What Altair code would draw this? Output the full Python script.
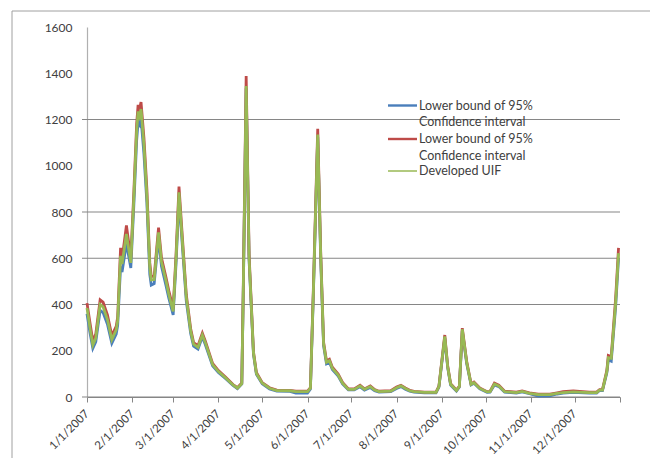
import altair as alt
import pandas as pd

# ---- data ----
dates = [
    "2007-01-01", "2007-01-03", "2007-01-05", "2007-01-07", "2007-01-10", "2007-01-12",
    "2007-01-15", "2007-01-18", "2007-01-21", "2007-01-22", "2007-01-24", "2007-01-25",
    "2007-01-28", "2007-01-31", "2007-02-02", "2007-02-04", "2007-02-05", "2007-02-06",
    "2007-02-07", "2007-02-09", "2007-02-11", "2007-02-13", "2007-02-14", "2007-02-16",
    "2007-02-19", "2007-02-21", "2007-02-24", "2007-02-26", "2007-03-01", "2007-03-03",
    "2007-03-05", "2007-03-07", "2007-03-10", "2007-03-13", "2007-03-15", "2007-03-18",
    "2007-03-21", "2007-03-23", "2007-03-28", "2007-04-01", "2007-04-06", "2007-04-11",
    "2007-04-14", "2007-04-17", "2007-04-18", "2007-04-20", "2007-04-22", "2007-04-25",
    "2007-04-27", "2007-05-01", "2007-05-06", "2007-05-11", "2007-05-20", "2007-05-24",
    "2007-06-01", "2007-06-03", "2007-06-05", "2007-06-08", "2007-06-10", "2007-06-12",
    "2007-06-14", "2007-06-16", "2007-06-18", "2007-06-22", "2007-06-25", "2007-06-29",
    "2007-07-03", "2007-07-07", "2007-07-10", "2007-07-14", "2007-07-17", "2007-07-20",
    "2007-07-28", "2007-08-01", "2007-08-04", "2007-08-07", "2007-08-10", "2007-08-13",
    "2007-08-20", "2007-08-28", "2007-08-30", "2007-09-03", "2007-09-05", "2007-09-07",
    "2007-09-11", "2007-09-13", "2007-09-15", "2007-09-18", "2007-09-21", "2007-09-23",
    "2007-09-27", "2007-10-02", "2007-10-04", "2007-10-07", "2007-10-10", "2007-10-14",
    "2007-10-22", "2007-10-26", "2007-10-31", "2007-11-06", "2007-11-14", "2007-11-19",
    "2007-11-23", "2007-11-30", "2007-12-11", "2007-12-16", "2007-12-18", "2007-12-20",
    "2007-12-23", "2007-12-24", "2007-12-26", "2007-12-29", "2007-12-31",
]

developed_uif = [
    385, 300, 225, 255, 400, 390, 335, 248, 290, 330, 610, 575,
    705, 580, 850, 1150, 1235, 1215, 1245, 1090, 870, 560, 506, 508,
    712, 585, 505, 445, 370, 600, 885, 700, 430, 285, 228, 215,
    268, 235, 140, 110, 82, 52, 38, 58, 450, 1345, 600, 190,
    102, 60, 38, 28, 27, 23, 23, 38, 450, 1135, 620, 230,
    150, 157, 124, 95, 60, 33, 33, 48, 33, 45, 30, 23,
    25, 40, 48, 37, 27, 23, 20, 20, 45, 262, 131, 55,
    28, 45, 293, 150, 55, 62, 37, 22, 23, 56, 48, 23,
    19, 24, 16, 10, 10, 16, 19, 22, 19, 19, 30, 30,
    110, 170, 167, 405, 622,
]

upper_bound = [
    406, 322, 242, 272, 420, 410, 355, 265, 305, 345, 645, 595,
    742, 600, 875, 1180, 1263, 1245, 1275, 1120, 900, 580, 522, 522,
    732, 602, 520, 460, 382, 620, 910, 720, 442, 295, 235, 222,
    276, 242, 145, 114, 85, 54, 40, 61, 465, 1388, 615, 196,
    106, 62, 40, 30, 29, 25, 25, 40, 465, 1160, 635, 238,
    156, 163, 129, 99, 63, 35, 35, 51, 35, 48, 32, 25,
    27, 43, 51, 39, 29, 24, 21, 21, 47, 268, 135, 57,
    30, 47, 298, 155, 57, 65, 39, 23, 24, 60, 51, 25,
    21, 26, 18, 12, 12, 18, 23, 26, 21, 21, 32, 32,
    115, 180, 175, 425, 645,
]

lower_bound = [
    360, 280, 210, 238, 375, 365, 315, 232, 272, 310, 565, 540,
    665, 558, 820, 1110, 1190, 1178, 1205, 1050, 840, 530, 484, 490,
    690, 565, 485, 428, 355, 580, 860, 680, 415, 275, 220, 207,
    260, 227, 135, 106, 79, 50, 36, 56, 440, 1335, 590, 184,
    98, 57, 35, 26, 24, 17, 17, 34, 440, 1125, 605, 222,
    143, 150, 119, 91, 57, 31, 31, 44, 30, 41, 27, 21,
    23, 37, 45, 34, 25, 21, 18, 18, 43, 255, 127, 52,
    26, 43, 286, 145, 52, 59, 35, 20, 21, 52, 45, 21,
    17, 22, 14, 4, 5, 13, 17, 20, 17, 17, 28, 28,
    105, 160, 155, 390, 600,
]

y_labels = [0, 200, 400, 600, 800, 1000, 1200, 1400, 1600]
grid_values = [0, 400, 600, 800, 1200]
month_ticks = [(2007, m) for m in range(1, 13)] + [(2008, 1)]

legend_blue = ["Lower bound of 95%", "Confidence interval"]
legend_red = ["Lower bound of 95%", "Confidence interval"]
legend_green = ["Developed UIF"]

# ---- styling ----
FONT = "Lato"
BLUE = "#4a7ebb"
RED = "#be4b48"
GREEN = "#98b954"
GRID = "#868686"
TEXT = "#404040"
W, H = 533, 370
PAD_R = 30

df = pd.DataFrame({
    "date": dates,
    "blue": lower_bound,
    "red": upper_bound,
    "green": developed_uif,
})
long = df.melt(id_vars="date", var_name="series", value_name="value")

x_scale = alt.Scale(
    type="utc",
    domain=[alt.DateTime(year=2007, month=1, date=1, utc=True),
            alt.DateTime(year=2008, month=1, date=1, utc=True)],
)
y_scale = alt.Scale(domain=[0, 1600], nice=False)

x_axis = alt.Axis(
    values=[alt.DateTime(year=y, month=m, date=1, utc=True) for y, m in month_ticks],
    labelExpr="utcyear(datum.value) >= 2008 ? '' : utcFormat(datum.value, '%-m/%-d/%Y')",
    labelAngle=-45, labelAlign="right", labelBaseline="middle",
    labelFont=FONT, labelFontSize=11.5, labelColor=TEXT, labelPadding=10,
    labelOverlap=False, labelFlush=False,
    tickColor=GRID, tickSize=5, domainColor=GRID, domainWidth=1.2,
    grid=False, title=None,
)
y_axis = alt.Axis(
    values=y_labels, format="d", ticks=False, grid=False,
    labelFont=FONT, labelFontSize=12, labelColor=TEXT, labelPadding=15,
    domainColor="#b0b0b0", domainWidth=1.2, title=None,
)


def series_line(name, color):
    return alt.Chart(long).transform_filter(
        alt.datum.series == name
    ).mark_line(color=color, strokeWidth=2.8).encode(
        x=alt.X("date:T", scale=x_scale, axis=x_axis),
        y=alt.Y("value:Q", scale=y_scale, axis=y_axis),
    )


grid = alt.Chart(pd.DataFrame({"g": grid_values})).mark_rule(
    color=GRID, strokeWidth=1.2
).encode(
    y=alt.Y("g:Q", scale=y_scale, axis=y_axis),
    x=alt.value(-5), x2=alt.value(W),
)

one = alt.Data(values=[{}])


def legend_entry(lines, color, y0, stroke):
    layers = [
        alt.Chart(one).mark_rule(color=color, strokeWidth=stroke).encode(
            x=alt.value(301), x2=alt.value(330), y=alt.value(y0)
        )
    ]
    for i, t in enumerate(lines):
        layers.append(
            alt.Chart(one).mark_text(
                text=t, align="left", baseline="middle",
                font=FONT, fontSize=12.5, color=TEXT,
            ).encode(x=alt.value(332), y=alt.value(y0 + 16.5 * i))
        )
    return layers


border = [
    alt.Chart(one).mark_rule(color="#a0a0a0", strokeWidth=1).encode(
        x=alt.value(-75), y=alt.value(-16), y2=alt.value(445)
    ),
    alt.Chart(one).mark_rule(color="#a0a0a0", strokeWidth=1).encode(
        x=alt.value(-75), x2=alt.value(W + PAD_R), y=alt.value(-16)
    ),
]

layers = (
    [grid,
     series_line("blue", BLUE),
     series_line("red", RED),
     series_line("green", GREEN)]
    + legend_entry(legend_blue, BLUE, 78.5, 2.4)
    + legend_entry(legend_red, RED, 112, 2.4)
    + legend_entry(legend_green, GREEN, 144, 1.5)
    + border
)

chart = alt.layer(*layers).properties(
    width=W, height=H,
    autosize=alt.AutoSizeParams(type="none"),
    padding={"left": 79, "top": 19, "right": PAD_R, "bottom": 61},
    background="white",
).configure_view(stroke=None)

chart.save("out.html", embed_options={"renderer": "svg", "actions": False})
